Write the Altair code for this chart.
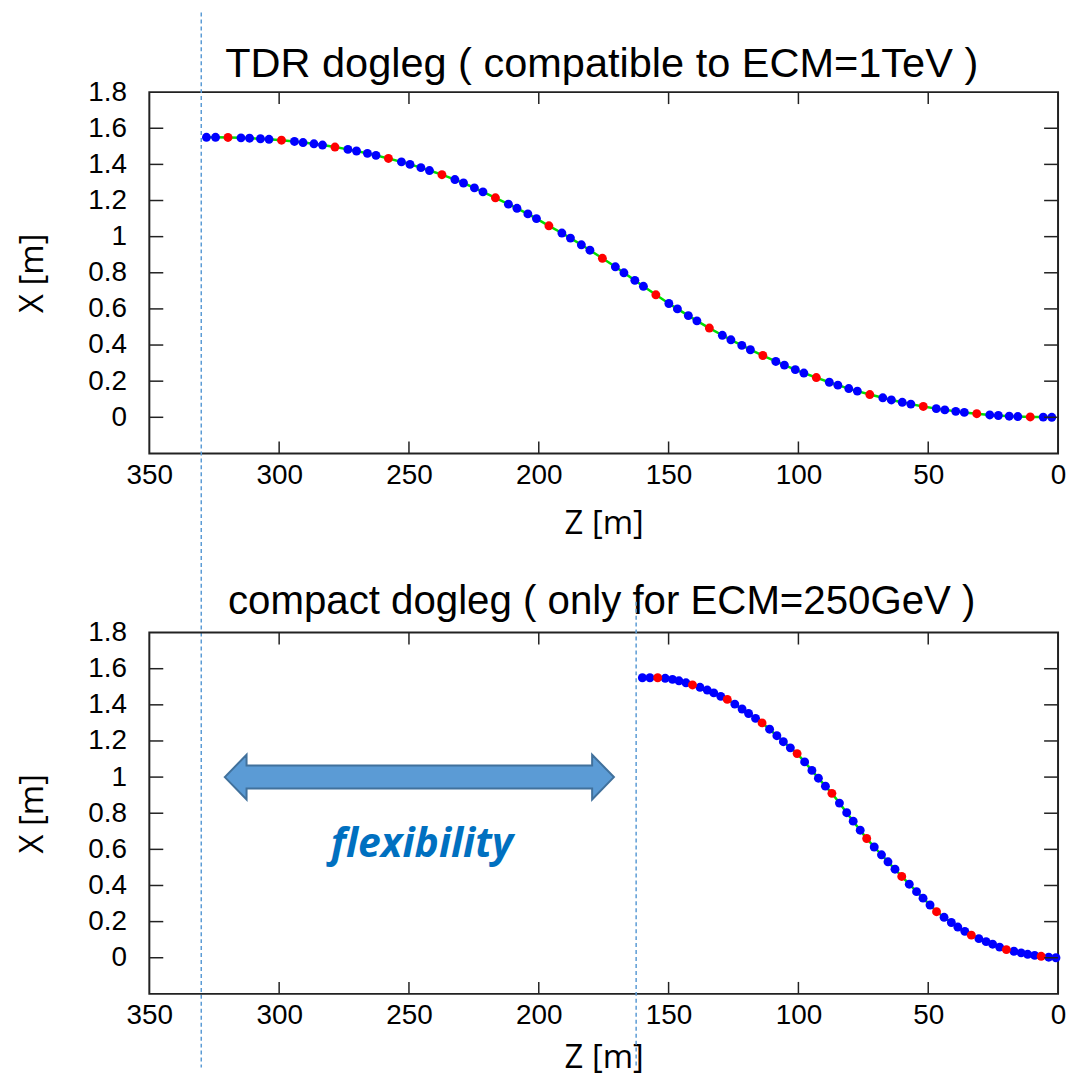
import altair as alt
import pandas as pd

# ---------------- data ----------------
# TDR dogleg: red = bends, blue = other elements
top_red_z = [319.7, 299.1, 278.5, 257.9, 237.3, 216.7, 196.1, 175.5, 154.9, 134.3,
             113.7, 93.1, 72.5, 51.9, 31.3, 10.7]
top_red_x = [1.549, 1.534, 1.496, 1.433, 1.343, 1.215, 1.060, 0.880, 0.678, 0.494,
             0.342, 0.220, 0.126, 0.060, 0.020, 0.002]
top_blue_z = [328.0, 324.5, 314.7, 311.4, 307.2, 303.9, 294.1, 290.8, 286.6, 283.3,
              273.5, 270.2, 266.0, 262.7, 252.9, 249.6, 245.4, 242.1, 232.3, 229.0,
              224.8, 221.5, 211.7, 208.4, 204.2, 200.9, 191.1, 187.8, 183.6, 180.3,
              170.5, 167.2, 163.0, 159.7, 149.9, 146.6, 142.4, 139.1, 129.3, 126.0,
              121.8, 118.5, 108.7, 105.4, 101.2, 97.9, 88.1, 84.8, 80.6, 77.3,
              67.5, 64.2, 60.0, 56.7, 46.9, 43.6, 39.4, 36.1, 26.3, 23.0,
              18.8, 15.5, 5.7, 2.4]
top_blue_x = [1.550, 1.550, 1.547, 1.545, 1.542, 1.539, 1.527, 1.521, 1.514, 1.507,
              1.483, 1.474, 1.461, 1.450, 1.414, 1.400, 1.382, 1.366, 1.316, 1.297,
              1.270, 1.248, 1.180, 1.157, 1.126, 1.100, 1.020, 0.992, 0.955, 0.925,
              0.833, 0.800, 0.758, 0.725, 0.630, 0.600, 0.563, 0.534, 0.454, 0.429,
              0.398, 0.374, 0.309, 0.289, 0.264, 0.245, 0.194, 0.178, 0.159, 0.145,
              0.108, 0.096, 0.083, 0.073, 0.048, 0.041, 0.033, 0.027, 0.013, 0.010,
              0.006, 0.004, 0.001, 0.000]

# compact dogleg
bot_red_z = [154.2, 140.8, 127.4, 114.0, 100.5, 87.1, 73.7, 60.2, 46.8, 33.4, 19.9, 6.5]
bot_red_x = [1.550, 1.510, 1.430, 1.300, 1.130, 0.910, 0.660, 0.450, 0.255, 0.125, 0.045, 0.008]
bot_blue_z = [160.1, 157.2, 151.3, 148.5, 146.0, 143.3, 137.9, 135.1, 132.6, 129.9,
              124.5, 121.7, 119.2, 116.5, 111.1, 108.3, 105.8, 103.1, 97.6, 94.8,
              92.3, 89.6, 84.2, 81.4, 78.9, 76.2, 70.8, 68.0, 65.5, 62.8,
              57.3, 54.5, 52.0, 49.3, 43.9, 41.1, 38.6, 35.9, 30.5, 27.7,
              25.2, 22.5, 17.0, 14.2, 11.7, 9.0, 3.6, 0.8]
bot_blue_x = [1.550, 1.550, 1.547, 1.541, 1.533, 1.522, 1.497, 1.482, 1.466, 1.447,
              1.404, 1.377, 1.352, 1.325, 1.265, 1.229, 1.196, 1.162, 1.084, 1.037,
              0.994, 0.950, 0.856, 0.803, 0.756, 0.706, 0.613, 0.570, 0.531, 0.490,
              0.407, 0.366, 0.330, 0.292, 0.224, 0.195, 0.170, 0.146, 0.106, 0.089,
              0.075, 0.059, 0.036, 0.027, 0.019, 0.013, 0.003, 0.000]

x_labels = [0, 50, 100, 150, 200, 250, 300, 350]
y_labels = [0, 0.2, 0.4, 0.6, 0.8, 1, 1.2, 1.4, 1.6, 1.8]
x_tickmarks = [50, 100, 150, 200, 250, 300]
y_tickmarks = [0, 0.2, 0.4, 0.6, 0.8, 1, 1.2, 1.4, 1.6]

titles = ["TDR dogleg ( compatible to ECM=1TeV )",
          "compact dogleg ( only for ECM=250GeV )"]

# annotations
dash_top_z = [330.0]
dash_bot_z = [162.5]
arrow_z = [246.0]
arrow_x = [1.0]
flex_text = ["flexibility"]
flex_z = [245.0]
flex_x = [0.56]

W, H = 913, 363
TICK_COLOR = "#222222"
DASH_COLOR = "#5b9bd5"

xs = alt.Scale(domain=[0, 350], reverse=True, nice=False, zero=False)
ys = alt.Scale(domain=[-0.2, 1.8], nice=False, zero=False)

ARROW_PATH = ("M -1 0 L -0.888 -0.115 L -0.888 -0.059 L 0.888 -0.059 L 0.888 -0.115 "
              "L 1 0 L 0.888 0.115 L 0.888 0.059 L -0.888 0.059 L -0.888 0.115 Z")


def panel(red_z, red_x, blue_z, blue_x, title, title_size, title_y, dash_z, dash_y0,
          dash_y1, x_title_pad, with_arrow=False):
    df = pd.DataFrame({
        "z": red_z + blue_z,
        "x": red_x + blue_x,
        "kind": ["red"] * len(red_z) + ["blue"] * len(blue_z),
    }).sort_values("z")
    blue = df[df.kind == "blue"]
    red = df[df.kind == "red"]

    line = alt.Chart(df).mark_line(color="#00dd00", strokeWidth=2.5).encode(
        x=alt.X("z:Q", scale=xs, title="Z [m]",
                axis=alt.Axis(values=x_labels, labelFlush=False, format="d",
                              titlePadding=x_title_pad)),
        y=alt.Y("x:Q", scale=ys, title="X [m]",
                axis=alt.Axis(values=y_labels, format="~g")),
        order="z:Q",
    )
    pb = alt.Chart(blue).mark_circle(size=80, opacity=1, color="#0000ff").encode(
        x="z:Q", y="x:Q")
    pr = alt.Chart(red).mark_circle(size=80, opacity=1, color="#ff0000").encode(
        x="z:Q", y="x:Q")

    xt = pd.DataFrame({"z": x_tickmarks})
    yt = pd.DataFrame({"x": y_tickmarks})
    tick_kw = dict(color=TICK_COLOR, strokeWidth=1.5)
    xb = alt.Chart(xt).mark_rule(**tick_kw).encode(
        x="z:Q", y=alt.value(H), y2=alt.value(H - 12))
    xtp = alt.Chart(xt).mark_rule(**tick_kw).encode(
        x="z:Q", y=alt.value(0), y2=alt.value(12))
    yl = alt.Chart(yt).mark_rule(**tick_kw).encode(
        y="x:Q", x=alt.value(0), x2=alt.value(14))
    yr = alt.Chart(yt).mark_rule(**tick_kw).encode(
        y="x:Q", x=alt.value(W), x2=alt.value(W - 14))

    ttl = alt.Chart(pd.DataFrame({"t": [title]})).mark_text(
        font="Liberation Sans", fontSize=title_size, color="black",
        align="center", baseline="alphabetic").encode(
        text="t:N", x=alt.value(W / 2 - 2), y=alt.value(title_y))

    dash = alt.Chart(pd.DataFrame({"z": dash_z})).mark_rule(
        color=DASH_COLOR, strokeWidth=1.5, strokeDash=[4, 3]).encode(
        x="z:Q", y=alt.value(dash_y0), y2=alt.value(dash_y1))

    layers = [line, pb, pr, xb, xtp, yl, yr, ttl, dash]

    if with_arrow:
        adf = pd.DataFrame({"z": arrow_z, "x": arrow_x})
        layers.append(
            alt.Chart(adf).mark_point(shape=ARROW_PATH, size=152881, filled=True,
                                      fill="#5b9bd5", stroke="#41719c",
                                      strokeWidth=2, opacity=1).encode(
                x="z:Q", y="x:Q"))
        tdf = pd.DataFrame({"z": flex_z, "x": flex_x, "t": flex_text})
        layers.append(
            alt.Chart(tdf).mark_text(font="Open Sans", fontSize=41, fontStyle="italic",
                                     fontWeight="bold", color="#0070c0",
                                     align="center", baseline="alphabetic").encode(
                x="z:Q", y="x:Q", text="t:N"))

    return alt.layer(*layers).properties(width=W, height=H)


top = panel(top_red_z, top_red_x, top_blue_z, top_blue_x, titles[0], 41.7, -15,
            dash_top_z, -80, 980, 18)
bottom = panel(bot_red_z, bot_red_x, bot_blue_z, bot_blue_x, titles[1], 40.4, -19,
               dash_bot_z, -31, 437, 12, with_arrow=True)

chart = alt.vconcat(top, bottom, spacing=180, bounds="flush").properties(
    padding={"left": 8, "top": 0, "right": 0, "bottom": 0}
).configure_view(
    stroke=TICK_COLOR, strokeWidth=2
).configure_axis(
    grid=False, domain=False, ticks=False, tickSize=0,
    labelFont="Liberation Sans", labelFontSize=28, labelColor="black",
    titleFont="Open Sans", titleFontSize=33, titleFontWeight="normal",
    titleColor="black",
).configure_axisX(
    labelPadding=8
).configure_axisY(
    labelPadding=23, titlePadding=38
)

chart.save("out.html", embed_options={"renderer": "svg", "actions": False})
